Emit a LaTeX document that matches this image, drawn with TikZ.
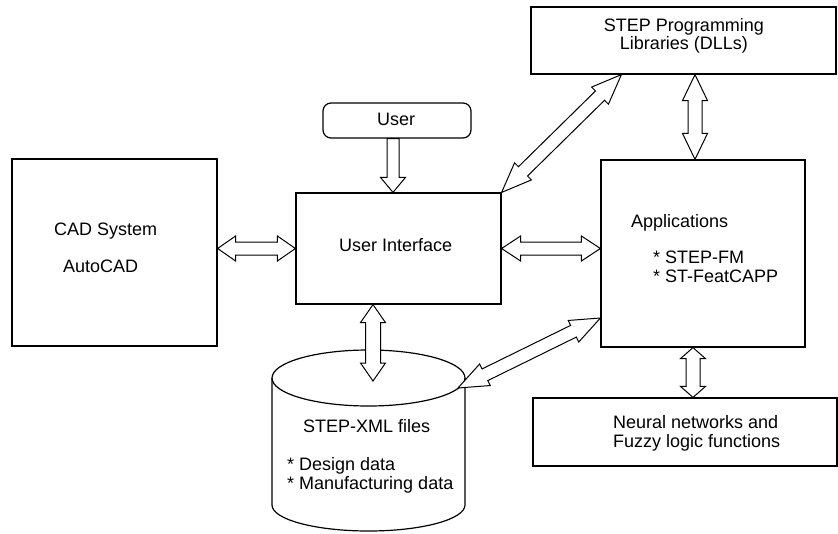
\documentclass[tikz,border=0pt]{standalone}
\usepackage{fontspec}
\setmainfont{Liberation Sans}
\usetikzlibrary{calc}

% Hollow double-headed arrow between two points:
% #1,#2 tips; #3 head length; #4 half head width; #5 half shaft width
\newcommand\twoway[5]{%
  \draw[conn] (#1)
    -- ($(#1)!#3!(#2)!#4!90:(#2)$)
    -- ($(#1)!#3!(#2)!#5!90:(#2)$)
    -- ($(#2)!#3!(#1)!#5!-90:(#1)$)
    -- ($(#2)!#3!(#1)!#4!-90:(#1)$)
    -- (#2)
    -- ($(#2)!#3!(#1)!#4!90:(#1)$)
    -- ($(#2)!#3!(#1)!#5!90:(#1)$)
    -- ($(#1)!#3!(#2)!#5!-90:(#2)$)
    -- ($(#1)!#3!(#2)!#4!-90:(#2)$)
    -- cycle;}
% Hollow single-headed arrow from #1 to the tip #2
\newcommand\oneway[5]{%
  \draw[conn] ($(#1)!#5!90:(#2)$)
    -- ($(#2)!#3!(#1)!#5!-90:(#1)$)
    -- ($(#2)!#3!(#1)!#4!-90:(#1)$)
    -- (#2)
    -- ($(#2)!#3!(#1)!#4!90:(#1)$)
    -- ($(#2)!#3!(#1)!#5!90:(#1)$)
    -- ($(#1)!#5!-90:(#2)$)
    -- cycle;}

\tikzset{
  box/.style={draw, line width=1.2pt, inner sep=0pt},
  conn/.style={draw, fill=white, line width=1pt, line join=miter},
  txt/.style={font=\fontsize{18pt}{18pt}\selectfont, inner sep=0pt, anchor=base west},
}

\begin{document}
\begin{tikzpicture}[x=1pt, y=-1pt]
\useasboundingbox (0,0) rectangle (838,533);

% blocks
\node[box, minimum width=205pt, minimum height=187pt] (cad) at (114.5,252.5) {};
\node[box, minimum width=205pt, minimum height=111pt] (ui) at (398.5,248.5) {};
\node[box, rounded corners=8pt, minimum width=148pt, minimum height=35pt] (user) at (397,120.5) {};
\node[box, minimum width=305pt, minimum height=67pt] (step) at (683.5,40.5) {};
\node[box, minimum width=204pt, minimum height=187pt] (apps) at (703,253.5) {};
\node[box, minimum width=304pt, minimum height=68pt] (nn) at (685,432) {};

% STEP-XML store drawn as a cylinder
\draw[line width=1.2pt] (272,378) -- (272,505)
  arc[start angle=180, end angle=360, x radius=96.5pt, y radius=26pt] -- (465,378);
\draw[line width=1.2pt] (368.5,378) ellipse[x radius=96.5pt, y radius=28pt];
\coordinate (cyltop) at (373,381);
\coordinate (cylrim) at (458,388);

% labels
\node[txt] (cadname) at (54,235) {CAD System};
\node[txt] (cadtool) at (63,272) {AutoCAD};
\node[txt] (uiname) at (339,251) {User Interface};
\node[txt] (username) at (377,125) {User};
\node[txt, align=center, anchor=base, font=\fontsize{18pt}{15.5pt}\selectfont] (steplabel) at (684,49.5)
  {STEP Programming\\Libraries (DLLs)};
\node[txt] (appname) at (631,227) {Applications};
\node[txt] (appa) at (653,263) {* STEP-FM};
\node[txt] (appb) at (653,282) {* ST-FeatCAPP};
\node[txt] (nna) at (613,428) {Neural networks and};
\node[txt] (nnb) at (613,447) {Fuzzy logic functions};
\node[txt] (xmlname) at (303,432) {STEP-XML files};
\node[txt] (xmla) at (287,470) {* Design data};
\node[txt] (xmlb) at (287,489) {* Manufacturing data};

% connectors
\coordinate (cadport) at (cad.east |- ui.west);
\coordinate (appsport) at (ui.east -| apps.west);
\coordinate (stepdiag) at ([xshift=91pt]step.south west);
\coordinate (appsdiag) at ([yshift=-64.5pt]apps.west);
\coordinate (appstop) at ([xshift=-8pt]apps.north);
\coordinate (stepport) at (appstop |- step.south);
\coordinate (appsbot) at ([xshift=-10pt]apps.south);
\coordinate (nnport) at (appsbot |- nn.north);
\coordinate (userport) at ([xshift=-4pt]user.south);
\coordinate (uitop) at (userport |- ui.north);
\coordinate (uibot) at (cyltop |- ui.south);

\twoway{cadport}{ui.west}{18pt}{12.5pt}{6.5pt}
\twoway{ui.east}{appsport}{19pt}{12.5pt}{6.5pt}
\twoway{ui.north east}{stepdiag}{30pt}{12pt}{6.5pt}
\twoway{stepport}{appstop}{26pt}{12.5pt}{7pt}
\twoway{appsbot}{nnport}{11pt}{12.5pt}{7pt}
\twoway{uibot}{cyltop}{18pt}{12.5pt}{7.5pt}
\twoway{cylrim}{appsdiag}{30pt}{12pt}{6.5pt}
\oneway{userport}{uitop}{15pt}{12.5pt}{6pt}
\end{tikzpicture}
\end{document}
